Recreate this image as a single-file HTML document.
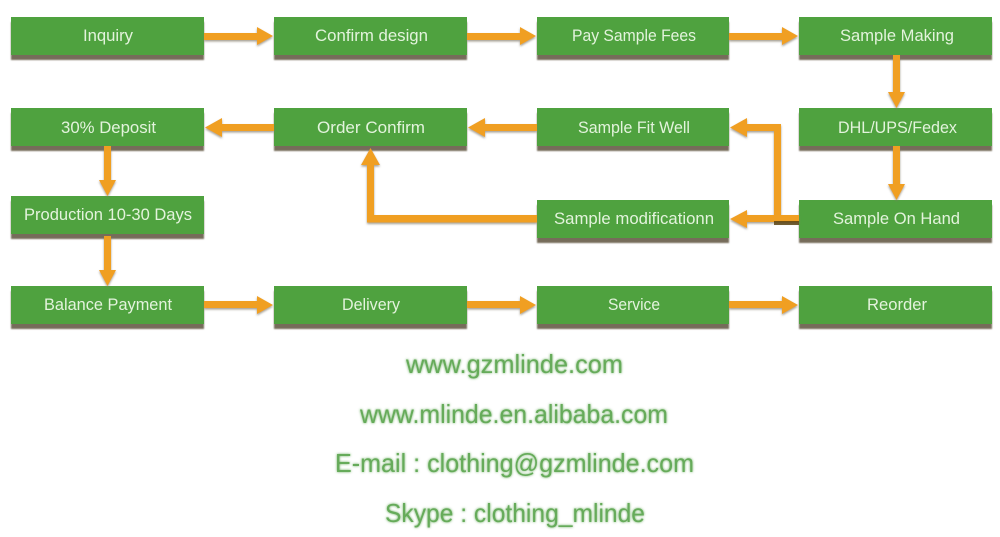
<!DOCTYPE html>
<html><head><meta charset="utf-8">
<style>
html,body{margin:0;padding:0;background:#fff;width:1000px;height:537px;overflow:hidden}
svg{display:block}
text{font-family:"Liberation Sans",sans-serif}
.b{fill:#4fa23f}
.s{fill:#766c5a}
.t{fill:#e3f3dc;font-size:17px;text-anchor:start}
.w{fill:#66ab5a;font-size:26px}
.a{fill:#f09f22}
</style></head><body>
<svg width="1000" height="537" viewBox="0 0 1000 537" xmlns="http://www.w3.org/2000/svg">
<defs>
<filter id="sf" x="-5%" y="-20%" width="110%" height="140%"><feGaussianBlur stdDeviation="0.8"/></filter>
<filter id="as" x="-20%" y="-20%" width="140%" height="140%"><feDropShadow dx="0" dy="1.5" stdDeviation="1" flood-color="#7d7565" flood-opacity=".7"/></filter>
<filter id="tb" x="-5%" y="-20%" width="110%" height="140%"><feGaussianBlur stdDeviation="0.3"/></filter>
<filter id="ts" x="-5%" y="-20%" width="110%" height="140%"><feGaussianBlur stdDeviation="0.35" result="c"/><feGaussianBlur in="SourceGraphic" stdDeviation="1.4" result="g"/><feMerge><feMergeNode in="g"/><feMergeNode in="c"/></feMerge></filter>
</defs>
<g filter="url(#sf)" class="s">
<rect x="11" y="22" width="193" height="38"/><rect x="274" y="22" width="193" height="38"/><rect x="537" y="22" width="192" height="38"/><rect x="799" y="22" width="193" height="38"/>
<rect x="11" y="113" width="193" height="38"/><rect x="274" y="113" width="193" height="38"/><rect x="537" y="113" width="192" height="38"/><rect x="799" y="113" width="193" height="38"/>
<rect x="11" y="201" width="193" height="38"/><rect x="537" y="205" width="192" height="38"/><rect x="799" y="205" width="193" height="38"/>
<rect x="11" y="291" width="193" height="38"/><rect x="274" y="291" width="193" height="38"/><rect x="537" y="291" width="192" height="38"/><rect x="799" y="291" width="193" height="38"/>
</g>
<g class="b">
<rect x="11" y="17" width="193" height="38"/><rect x="274" y="17" width="193" height="38"/><rect x="537" y="17" width="192" height="38"/><rect x="799" y="17" width="193" height="38"/>
<rect x="11" y="108" width="193" height="38"/><rect x="274" y="108" width="193" height="38"/><rect x="537" y="108" width="192" height="38"/><rect x="799" y="108" width="193" height="38"/>
<rect x="11" y="196" width="193" height="38"/><rect x="537" y="200" width="192" height="38"/><rect x="799" y="200" width="193" height="38"/>
<rect x="11" y="286" width="193" height="38"/><rect x="274" y="286" width="193" height="38"/><rect x="537" y="286" width="192" height="38"/><rect x="799" y="286" width="193" height="38"/>
</g>
<g class="a" filter="url(#as)">
<polygon points="204,33 257,33 257,27 273,36 257,45 257,40 204,40"/>
<polygon points="467,33 520,33 520,27 536,36 520,45 520,40 467,40"/>
<polygon points="729,33 782,33 782,27 798,36 782,45 782,40 729,40"/>
<polygon points="893,55 900,55 900,92 905,92 896.500,108 888,92 893,92"/>
<polygon points="893,146 900,146 900,184 905,184 896.500,200 888,184 893,184"/>
<polygon points="274,124 274,131 222,131 222,137 205,127.500 222,118 222,124"/>
<polygon points="537,124 537,131 485,131 485,137 468,127.500 485,118 485,124"/>
<polygon points="799,215 799,222 774,222 774,131 747,131 747,137 730,127.500 747,118 747,124 781,124 781,215"/>
<polygon points="775,215 775,222 747,222 747,228 730,219 747,210 747,215"/>
<polygon points="537,215 537,222.500 367,222.500 367,165 361,165 370.500,148 380,165 374,165 374,215"/>
<polygon points="104,146 111,146 111,180 116,180 107.500,196 99,180 104,180"/>
<polygon points="104,236 111,236 111,270 116,270 107.500,286 99,270 104,270"/>
<polygon points="204,301 257,301 257,296 273,305 257,314 257,308 204,308"/>
<polygon points="467,301 520,301 520,296 536,305 520,314 520,308 467,308"/>
<polygon points="729,301 782,301 782,296 798,305 782,314 782,308 729,308"/>
</g>
<rect x="774" y="221" width="25" height="4" fill="#5a4312" opacity=".85"/>
<g class="t" filter="url(#tb)">
<text x="83" y="41" textLength="50" lengthAdjust="spacingAndGlyphs">Inquiry</text>
<text x="315" y="41" textLength="113" lengthAdjust="spacingAndGlyphs">Confirm design</text>
<text x="572" y="41" textLength="124" lengthAdjust="spacingAndGlyphs">Pay Sample Fees</text>
<text x="840" y="41" textLength="114" lengthAdjust="spacingAndGlyphs">Sample Making</text>
<text x="61" y="133" textLength="95" lengthAdjust="spacingAndGlyphs">30% Deposit</text>
<text x="317" y="133" textLength="108" lengthAdjust="spacingAndGlyphs">Order Confirm</text>
<text x="578" y="133" textLength="112" lengthAdjust="spacingAndGlyphs">Sample Fit Well</text>
<text x="838" y="133" textLength="119" lengthAdjust="spacingAndGlyphs">DHL/UPS/Fedex</text>
<text x="24" y="220" textLength="168" lengthAdjust="spacingAndGlyphs">Production 10-30 Days</text>
<text x="554" y="224" textLength="160" lengthAdjust="spacingAndGlyphs">Sample modificationn</text>
<text x="833" y="224" textLength="127" lengthAdjust="spacingAndGlyphs">Sample On Hand</text>
<text x="44" y="310" textLength="128" lengthAdjust="spacingAndGlyphs">Balance Payment</text>
<text x="342" y="310" textLength="58" lengthAdjust="spacingAndGlyphs">Delivery</text>
<text x="608" y="310" textLength="52" lengthAdjust="spacingAndGlyphs">Service</text>
<text x="867" y="310" textLength="60" lengthAdjust="spacingAndGlyphs">Reorder</text>
</g>
<g class="w" filter="url(#ts)">
<text x="406" y="373" textLength="217" lengthAdjust="spacingAndGlyphs">www.gzmlinde.com</text>
<text x="360" y="423" textLength="308" lengthAdjust="spacingAndGlyphs">www.mlinde.en.alibaba.com</text>
<text x="335" y="472" textLength="359" lengthAdjust="spacingAndGlyphs">E-mail : clothing@gzmlinde.com</text>
<text x="385" y="522" textLength="260" lengthAdjust="spacingAndGlyphs">Skype : clothing_mlinde</text>
</g>
</svg>
</body></html>
